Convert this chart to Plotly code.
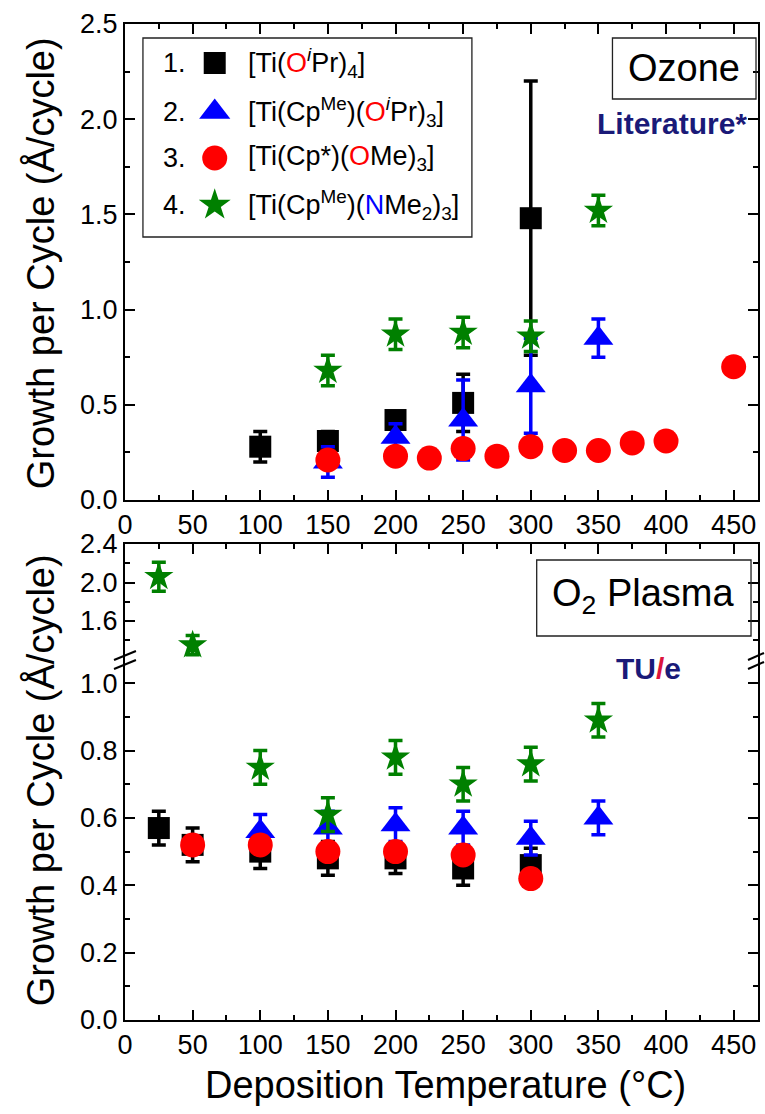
import plotly.graph_objects as go

# ---------------- data ----------------
# Ozone panel (top)
oz_x1 = [100, 150, 200, 250, 300]
oz_y1 = [0.28, 0.31, 0.42, 0.51, 1.48]
oz_e1 = [0.08, 0.05, 0.04, 0.15, 0.72]

oz_x2 = [150, 200, 250, 300, 350]
oz_y2 = [0.20, 0.33, 0.42, 0.60, 0.85]
oz_e2 = [0.08, 0.07, 0.21, 0.25, 0.10]

oz_x3 = [150, 200, 225, 250, 275, 300, 325, 350, 375, 400, 450]
oz_y3 = [0.21, 0.23, 0.22, 0.27, 0.23, 0.28, 0.26, 0.26, 0.30, 0.31, 0.70]
oz_e3 = [0.03, 0.03, 0.03, 0.03, 0.03, 0.03, 0.03, 0.03, 0.03, 0.03, 0.04]

oz_x4 = [150, 200, 250, 300, 350]
oz_y4 = [0.68, 0.87, 0.88, 0.86, 1.52]
oz_e4 = [0.08, 0.08, 0.08, 0.08, 0.08]

# O2 plasma panel (bottom)
pl_x1 = [25, 50, 100, 150, 200, 250, 300]
pl_y1 = [0.57, 0.52, 0.50, 0.48, 0.48, 0.45, 0.46]
pl_e1 = [0.05, 0.05, 0.05, 0.05, 0.045, 0.05, 0.05]

pl_x2 = [100, 150, 200, 250, 300, 350]
pl_y2 = [0.56, 0.57, 0.58, 0.57, 0.54, 0.60]
pl_e2 = [0.05, 0.05, 0.05, 0.05, 0.05, 0.05]

pl_x3 = [50, 100, 150, 200, 250, 300]
pl_y3 = [0.52, 0.52, 0.50, 0.50, 0.49, 0.42]
pl_e3 = [0.02, 0.02, 0.02, 0.02, 0.02, 0.02]

pl_x4 = [25, 50, 100, 150, 200, 250, 300, 350]
pl_y4 = [2.06, 1.35, 0.75, 0.61, 0.78, 0.70, 0.76, 0.89]
pl_e4 = [0.15, 0.10, 0.05, 0.05, 0.05, 0.05, 0.05, 0.05]

series_names = [
    "[Ti(<span style='color:#ff0000'>O</span><sup><i>i</i></sup>Pr)<sub>4</sub>]",
    "[Ti(Cp<sup>Me</sup>)(<span style='color:#ff0000'>O</span><sup><i>i</i></sup>Pr)<sub>3</sub>]",
    "[Ti(Cp*)(<span style='color:#ff0000'>O</span>Me)<sub>3</sub>]",
    "[Ti(Cp<sup>Me</sup>)(<span style='color:#0000ff'>N</span>Me<sub>2</sub>)<sub>3</sub>]",
]
series_nums = ["1.", "2.", "3.", "4."]
colors = ["#000000", "#0000ff", "#ff0000", "#008000"]
symbols = ["square", "triangle-up", "circle", "star"]
sizes = [22, 26, 25, 22]

x_ticks = [0, 50, 100, 150, 200, 250, 300, 350, 400, 450]
y_up_ticks = [1.6, 2.0, 2.4]
y_up_minor = [1.4, 1.8, 2.2]

# ---------------- layout helpers ----------------
W, H = 765, 1114
L, R, T, B = 125, 760, 24, 1020  # plot area in pixels


def px(xp):
    return (xp - L) / (R - L)


def py(yp):
    return (B - yp) / (B - T)


FONT = "Liberation Sans, Arial, sans-serif"

fig = go.Figure()

oz = [(oz_x1, oz_y1, oz_e1), (oz_x2, oz_y2, oz_e2), (oz_x3, oz_y3, oz_e3), (oz_x4, oz_y4, oz_e4)]
pl = [(pl_x1, pl_y1, pl_e1), (pl_x2, pl_y2, pl_e2), (pl_x3, pl_y3, pl_e3), (pl_x4, pl_y4, pl_e4)]


def add_series(data, xa, ya):
    for i, (xs, ys, es) in enumerate(data):
        fig.add_trace(go.Scatter(
            x=xs, y=ys, mode="markers", xaxis=xa, yaxis=ya, showlegend=False,
            marker=dict(symbol=symbols[i], size=sizes[i], color=colors[i], opacity=1,
                        line=dict(width=0)),
            error_y=dict(type="data", array=es, visible=True, color=colors[i],
                         thickness=3.5, width=7),
        ))


add_series(oz, "x", "y")
add_series(pl, "x2", "y2")
add_series(pl, "x3", "y3")

# legend markers on an invisible overlay axis
leg_rows_px = [63, 112, 158, 205]
fig.add_trace(go.Scatter(
    x=[px(215)] * 4, y=[py(r) for r in leg_rows_px], mode="markers",
    xaxis="x4", yaxis="y4", showlegend=False, hoverinfo="skip",
    marker=dict(symbol=symbols, size=[22, 27, 25, 24], color=colors, opacity=1, line=dict(width=0)),
))

TICKFONT = dict(family=FONT, size=27, color="black")
axis_common = dict(
    showline=True, linewidth=2, linecolor="black", ticks="inside", ticklen=10,
    tickwidth=1.5, tickcolor="black", showgrid=False, zeroline=False,
    tickfont=TICKFONT,
)
minor_x = dict(ticks="inside", ticklen=5, dtick=25, tick0=0, tickcolor="black", tickwidth=1.5)

d_top = [py(500), 1.0]
brk = 660
d_low = [0.0, py(brk)]
d_up = [py(brk), py(544)]

fig.update_layout(
    width=W, height=H,
    margin=dict(l=L, r=W - R, t=T, b=H - B),
    paper_bgcolor="white", plot_bgcolor="rgba(0,0,0,0)",
    font=dict(family=FONT, color="black"),
    showlegend=False,
    xaxis=dict(domain=[0, 1], anchor="y", range=[0, 468], tickvals=x_ticks, mirror="ticks",
               minor=minor_x, **axis_common),
    yaxis=dict(domain=d_top, anchor="x", range=[0, 2.5], dtick=0.5, tick0=0, tickformat=".1f",
               mirror="ticks",
               minor=dict(ticks="inside", ticklen=5, dtick=0.25, tick0=0, tickcolor="black", tickwidth=1.5),
               **axis_common),
    xaxis2=dict(domain=[0, 1], anchor="y2", range=[0, 468], tickvals=x_ticks,
                minor=minor_x, **axis_common),
    yaxis2=dict(domain=d_low, anchor="x2", range=[0, 1.069], dtick=0.2, tick0=0, tickformat=".1f",
                mirror="ticks",
                minor=dict(ticks="inside", ticklen=5, dtick=0.1, tick0=0, tickcolor="black", tickwidth=1.5),
                **axis_common),
    xaxis3=dict(domain=[0, 1], anchor="y3", range=[0, 468], tickvals=x_ticks, side="top",
                showticklabels=False, minor=minor_x, **axis_common),
    yaxis3=dict(domain=d_up, anchor="x3", range=[1.195, 2.4], tickvals=y_up_ticks, tickformat=".1f",
                mirror="ticks",
                minor=dict(ticks="inside", ticklen=5, tickvals=y_up_minor, tickcolor="black", tickwidth=1.5),
                **axis_common),
    xaxis4=dict(domain=[0, 1], anchor="y4", range=[0, 1], visible=False),
    yaxis4=dict(domain=[0, 1], anchor="x4", range=[0, 1], visible=False),
)

shapes = []
# legend box
shapes.append(dict(type="rect", xref="paper", yref="paper", x0=px(143), x1=px(473), y0=py(237), y1=py(38),
                   line=dict(color="#222", width=1.3), fillcolor="rgba(0,0,0,0)"))
# Ozone box
shapes.append(dict(type="rect", xref="paper", yref="paper", x0=px(614), x1=px(758), y0=py(99), y1=py(38),
                   line=dict(color="#222", width=1.3), fillcolor="rgba(0,0,0,0)"))
# O2 plasma box
shapes.append(dict(type="rect", xref="paper", yref="paper", x0=px(538), x1=px(753), y0=py(636), y1=py(560),
                   line=dict(color="#222", width=1.3), fillcolor="rgba(0,0,0,0)"))
# axis break marks
for dy in (0, 9):
    shapes.append(dict(type="line", xref="paper", yref="paper", x0=px(114), y0=py(664 + dy - 4),
                       x1=px(136), y1=py(655 + dy - 4), line=dict(color="black", width=2)))
    shapes.append(dict(type="line", xref="paper", yref="paper", x0=px(750), y0=py(664 + dy - 4),
                       x1=px(766), y1=py(657 + dy - 4), line=dict(color="black", width=2)))
fig.update_layout(shapes=shapes)

ann = []
for i in range(4):
    ann.append(dict(xref="paper", yref="paper", x=px(161), y=py(leg_rows_px[i]), xanchor="left",
                    yanchor="middle", text=series_nums[i], showarrow=False,
                    font=dict(family=FONT, size=27, color="black")))
    ann.append(dict(xref="paper", yref="paper", x=px(246), y=py(leg_rows_px[i]), xanchor="left",
                    yanchor="middle", text=series_names[i], showarrow=False,
                    font=dict(family=FONT, size=27, color="black")))
ann.append(dict(xref="paper", yref="paper", x=px(686), y=py(68), xanchor="center", yanchor="middle",
                text="Ozone", showarrow=False, font=dict(family=FONT, size=38, color="black")))
ann.append(dict(xref="paper", yref="paper", x=px(674), y=py(123), xanchor="center", yanchor="middle",
                text="<b>Literature*</b>", showarrow=False, font=dict(family=FONT, size=30, color="#1a1a78")))
ann.append(dict(xref="paper", yref="paper", x=px(645), y=py(596), xanchor="center", yanchor="middle",
                text="O<sub>2</sub> Plasma", showarrow=False, font=dict(family=FONT, size=38, color="black")))
ann.append(dict(xref="paper", yref="paper", x=px(650), y=py(668), xanchor="center", yanchor="middle",
                text="<b>TU<span style='color:#dc143c'>/</span>e</b>", showarrow=False,
                font=dict(family=FONT, size=30, color="#1a1a78")))
ytitle = "Growth per Cycle (Å/cycle)"
ann.append(dict(xref="paper", yref="paper", x=px(40), y=py(263), xanchor="center", yanchor="middle",
                text=ytitle, textangle=-90, showarrow=False, font=dict(family=FONT, size=38, color="black")))
ann.append(dict(xref="paper", yref="paper", x=px(40), y=py(780), xanchor="center", yanchor="middle",
                text=ytitle, textangle=-90, showarrow=False, font=dict(family=FONT, size=38, color="black")))
ann.append(dict(xref="paper", yref="paper", x=px(447), y=py(1085), xanchor="center", yanchor="middle",
                text="Deposition Temperature (°C)", showarrow=False,
                font=dict(family=FONT, size=38, color="black")))
fig.update_layout(annotations=ann)

fig.write_html("out.html")
